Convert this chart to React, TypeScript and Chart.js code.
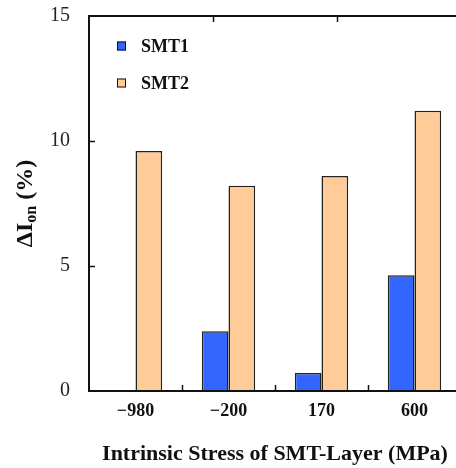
import React, { useEffect, useRef } from 'react';
import { Chart, registerables } from 'chart.js';

Chart.register(...registerables);

const categories = ['−980', '−200', '170', '600'];
const smt1Values: (number | null)[] = [null, 2.39, 0.72, 4.63];
const smt2Values: number[] = [9.6, 8.21, 8.6, 11.21];
const seriesNames = ['SMT1', 'SMT2'];
const seriesColors = ['#3366FF', '#FFCC99'];
const yMin = 0;
const yMax = 15;
const yStep = 5;
const topTickDivisions = 3;
const xTitle = 'Intrinsic Stress of SMT-Layer (MPa)';
const yTitleMain = 'ΔI';
const yTitleSub = 'on';
const yTitleTail = ' (%)';

const SERIF = '"Liberation Serif", "Times New Roman", serif';

const framePlugin = {
  id: 'frame',
  afterDatasetsDraw(chart: any) {
    const { ctx, chartArea: a, scales } = chart;
    const x = scales.x;
    const y = scales.y;
    ctx.save();
    ctx.strokeStyle = '#111';
    ctx.lineWidth = 2;
    ctx.beginPath();
    ctx.moveTo(a.left, a.top);
    ctx.lineTo(a.right, a.top);
    ctx.lineTo(a.right, a.bottom);
    ctx.lineTo(a.left, a.bottom);
    ctx.closePath();
    ctx.stroke();
    ctx.lineWidth = 1.5;
    const tl = 6;
    y.ticks.forEach((t: any) => {
      if (t.value <= yMin || t.value >= yMax) return;
      const py = Math.round(y.getPixelForValue(t.value)) + 0.5;
      ctx.beginPath();
      ctx.moveTo(a.left, py);
      ctx.lineTo(a.left + tl, py);
      ctx.stroke();
    });
    for (let i = 1; i < categories.length; i++) {
      const px = Math.round((x.getPixelForValue(i - 1) + x.getPixelForValue(i)) / 2) + 0.5;
      ctx.beginPath();
      ctx.moveTo(px, a.bottom);
      ctx.lineTo(px, a.bottom - tl);
      ctx.stroke();
    }
    for (let i = 1; i < topTickDivisions; i++) {
      const px = Math.round(a.left + ((a.right - a.left) * i) / topTickDivisions) + 0.5;
      ctx.beginPath();
      ctx.moveTo(px, a.top);
      ctx.lineTo(px, a.top + tl);
      ctx.stroke();
    }
    // legend
    ctx.font = 'bold 18px ' + SERIF;
    ctx.textBaseline = 'middle';
    ctx.textAlign = 'left';
    seriesNames.forEach((name, i) => {
      const cy = a.top + 30 + i * 37;
      const bx = a.left + 28;
      ctx.fillStyle = seriesColors[i];
      ctx.fillRect(bx, cy - 4.5, 9, 9);
      ctx.lineWidth = 1;
      ctx.strokeStyle = '#111';
      ctx.strokeRect(bx + 0.5, cy - 4, 8, 8);
      ctx.fillStyle = '#111';
      ctx.fillText(name, bx + 24, cy + 1);
    });
    // y title with subscript
    const cx = 24;
    const cyT = (a.top + a.bottom) / 2;
    ctx.translate(cx, cyT);
    ctx.rotate(-Math.PI / 2);
    const mainFont = 'bold 24px ' + SERIF;
    const subFont = 'bold 16px ' + SERIF;
    ctx.font = mainFont;
    const w1 = ctx.measureText(yTitleMain).width;
    const w3 = ctx.measureText(yTitleTail).width;
    ctx.font = subFont;
    const w2 = ctx.measureText(yTitleSub).width;
    const total = w1 + w2 + w3;
    let sx = -total / 2;
    ctx.textBaseline = 'alphabetic';
    ctx.fillStyle = '#111';
    ctx.font = mainFont;
    ctx.fillText(yTitleMain, sx, 8);
    sx += w1;
    ctx.font = subFont;
    ctx.fillText(yTitleSub, sx, 12);
    sx += w2;
    ctx.font = mainFont;
    ctx.fillText(yTitleTail, sx, 8);
    ctx.restore();
  },
};

export default function App() {
  const ref = useRef<HTMLCanvasElement | null>(null);
  useEffect(() => {
    if (!ref.current) return;
    const chart = new Chart(ref.current, {
      type: 'bar',
      data: {
        labels: categories,
        datasets: [
          {
            label: seriesNames[0],
            data: smt1Values,
            backgroundColor: seriesColors[0],
            borderColor: '#222',
            borderWidth: 1.5,
          },
          {
            label: seriesNames[1],
            data: smt2Values,
            backgroundColor: seriesColors[1],
            borderColor: '#222',
            borderWidth: 1.5,
          },
        ],
      },
      options: {
        responsive: false,
        animation: false,
        devicePixelRatio: 1,
        layout: { padding: { left: 0, right: 9, top: 16, bottom: 0 } },
        datasets: { bar: { categoryPercentage: 0.574, barPercentage: 1.0 } },
        plugins: {
          legend: { display: false },
          tooltip: { enabled: false },
          title: { display: false },
        },
        scales: {
          x: {
            grid: { display: false, drawTicks: false },
            border: { display: false },
            ticks: {
              font: { family: SERIF, size: 18, weight: 'bold' },
              color: '#111',
              padding: 10,
            },
            title: {
              display: true,
              text: xTitle,
              font: { family: SERIF, size: 22, weight: 'bold' },
              color: '#111',
              padding: { top: 3, bottom: 0 },
            },
            afterFit: (s: any) => {
              s.height = 77;
              s.paddingLeft = 0;
              s.paddingRight = 0;
            },
          },
          y: {
            min: yMin,
            max: yMax,
            grid: { display: false, drawTicks: false },
            border: { display: false },
            ticks: {
              stepSize: yStep,
              font: { family: SERIF, size: 20 },
              color: '#222',
              padding: 19,
            },
            afterFit: (s: any) => {
              s.width = 89;
              s.paddingTop = 0;
              s.paddingBottom = 0;
            },
          },
        },
      },
      plugins: [framePlugin],
    } as any);
    return () => chart.destroy();
  }, []);
  return (
    <div style={{ position: 'fixed', left: 0, top: 0, width: 456, height: 468, overflow: 'hidden', background: '#fff' }}>
      <canvas ref={ref} width={470} height={468} style={{ width: 470, height: 468, display: 'block' }} />
    </div>
  );
}
